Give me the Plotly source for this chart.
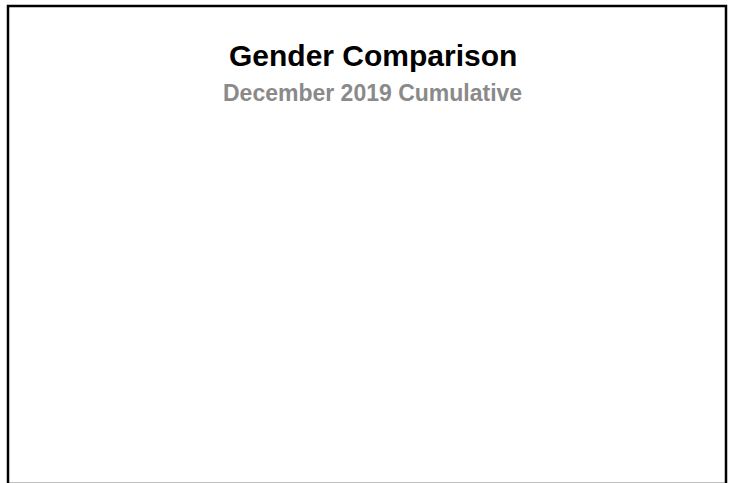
import plotly.graph_objects as go

# Data (the reference chart shows no data marks)
genders = []
counts = []

title_text = "Gender Comparison"
subtitle_text = "December 2019 Cumulative"

W, H = 732, 483

fig = go.Figure()
fig.add_trace(go.Pie(labels=genders, values=counts, showlegend=False))

def px_x(x):
    return x / W

def px_y(y):
    return 1 - y / H

fig.update_layout(
    width=W, height=H,
    margin=dict(l=0, r=0, t=0, b=0),
    paper_bgcolor="white",
    plot_bgcolor="white",
    showlegend=False,
    annotations=[
        dict(text=title_text, xref="paper", yref="paper",
             x=px_x(372.5), y=px_y(56), xanchor="center", yanchor="middle",
             showarrow=False,
             font=dict(family="Liberation Sans, Arial", size=30, color="#000000", weight="bold")),
        dict(text=subtitle_text, xref="paper", yref="paper",
             x=px_x(373), y=px_y(93.5), xanchor="center", yanchor="middle",
             showarrow=False,
             font=dict(family="Liberation Sans, Arial", size=23, color="#8a8a8a", weight="bold")),
    ],
    shapes=[
        dict(type="rect", xref="paper", yref="paper",
             x0=px_x(8), x1=px_x(726), y0=px_y(484), y1=px_y(6),
             line=dict(color="#000000", width=2.5), fillcolor="rgba(0,0,0,0)"),
    ],
)

fig.write_html("out.html", config={"displayModeBar": False},
               post_script="document.body.style.margin='0';")
